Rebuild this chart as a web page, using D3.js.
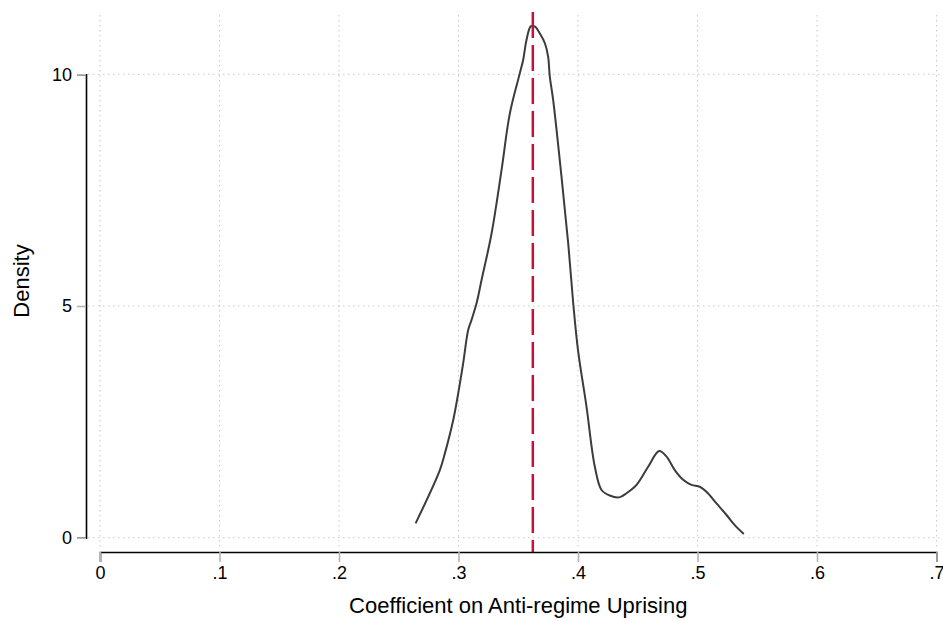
<!DOCTYPE html>
<html>
<head>
<meta charset="utf-8">
<script src="https://cdn.jsdelivr.net/npm/d3@7"></script>
<style>
    body { margin: 0; background: #fff; }
    svg { font-family: "Liberation Sans", Arial, Helvetica, sans-serif; }
</style>
</head>
<body>
<svg id="drawing"></svg>
<script>
// density estimate
const coef_x = [0.2641, 0.2844, 0.2886, 0.2956, 0.2998, 0.3039, 0.3081, 0.3109, 0.3151, 0.3193,
    0.3277, 0.3360, 0.3430, 0.3513, 0.3541, 0.3569, 0.3606, 0.3640, 0.3681, 0.3723, 0.3750,
    0.3764, 0.3792, 0.3862, 0.3918, 0.3960, 0.4000, 0.4071, 0.4141, 0.4197, 0.4266, 0.4344,
    0.4406, 0.4490, 0.4587, 0.4679, 0.4741, 0.4810, 0.4880, 0.4950, 0.5019, 0.5075, 0.5159,
    0.5243, 0.5312, 0.5387];
const density_y = [0.31, 1.46, 1.82, 2.54, 3.12, 3.76, 4.48, 4.70, 5.06, 5.56,
    6.57, 7.93, 9.16, 10.02, 10.31, 10.74, 11.04, 11.03, 10.88, 10.67, 10.38,
    9.95, 9.45, 7.79, 6.35, 5.06, 4.05, 2.83, 1.53, 1.03, 0.91, 0.87,
    0.96, 1.14, 1.53, 1.87, 1.75, 1.46, 1.25, 1.14, 1.10, 0.99, 0.74,
    0.49, 0.27, 0.08];
const point_estimate = 0.3622;

const x_ticks = [0, 0.1, 0.2, 0.3, 0.4, 0.5, 0.6, 0.7];
const x_tick_labels = ['0', '.1', '.2', '.3', '.4', '.5', '.6', '.7'];
const y_ticks = [0, 5, 10];
const y_tick_labels = ['0', '5', '10'];

class DensityPlot {
    constructor (config, data) {
        this.config = {
            parent: config.parent,
            width: config.width || 943,
            height: config.height || 621,
            xlabel: config.xlabel || '',
            ylabel: config.ylabel || ''
        };
        this.data = data;
        this.init();
    }

    init() {
        let self = this;

        self.svg = d3.select(self.config.parent)
            .attr('width', self.config.width)
            .attr('height', self.config.height);

        // x: 0 -> 100px, .7 -> 936px ; y: 0 -> 537.7px, 10 -> 74.3px
        self.xscale = d3.scaleLinear()
            .domain([0, 0.7])
            .range([100, 936.5]);

        self.yscale = d3.scaleLinear()
            .domain([0, 10])
            .range([537.7, 74.3]);

        self.grid = self.svg.append('g');
        self.chart = self.svg.append('g');
        self.axes = self.svg.append('g');
    }

    render() {
        let self = this;
        const grid_style = g => g
            .attr('stroke', '#c8c8c8')
            .attr('stroke-width', 1)
            .attr('stroke-dasharray', '1.5,3.5');

        self.grid.selectAll('line.vgrid')
            .data(x_ticks)
            .enter()
            .append('line')
            .attr('class', 'vgrid')
            .attr('x1', d => self.xscale(d))
            .attr('x2', d => self.xscale(d))
            .attr('y1', 15)
            .attr('y2', 548)
            .call(grid_style);

        self.grid.selectAll('line.hgrid')
            .data(y_ticks)
            .enter()
            .append('line')
            .attr('class', 'hgrid')
            .attr('x1', 88)
            .attr('x2', 943)
            .attr('y1', d => self.yscale(d))
            .attr('y2', d => self.yscale(d))
            .call(grid_style);

        const line = d3.line()
            .x(d => self.xscale(d[0]))
            .y(d => self.yscale(d[1]))
            .curve(d3.curveCatmullRom.alpha(0.5));

        self.chart.append('path')
            .datum(self.data)
            .attr('d', line)
            .attr('fill', 'none')
            .attr('stroke', '#3c3c3c')
            .attr('stroke-width', 2);

        self.chart.append('line')
            .attr('x1', self.xscale(point_estimate))
            .attr('x2', self.xscale(point_estimate))
            .attr('y1', 12)
            .attr('y2', 552)
            .attr('stroke', '#c8103e')
            .attr('stroke-width', 2.5)
            .attr('stroke-dasharray', '26,7');

        // axes
        self.xaxis = d3.axisBottom(self.xscale)
            .tickValues(x_ticks)
            .tickFormat((d, i) => x_tick_labels[i])
            .tickSizeOuter(0)
            .tickSize(10)
            .tickPadding(4);

        self.yaxis = d3.axisLeft(self.yscale)
            .tickValues(y_ticks)
            .tickFormat((d, i) => y_tick_labels[i])
            .tickSizeOuter(0)
            .tickSize(9)
            .tickPadding(5);

        const xg = self.axes.append('g')
            .attr('transform', 'translate(0, 552)')
            .call(self.xaxis);

        const yg = self.axes.append('g')
            .attr('transform', 'translate(86, 0)')
            .call(self.yaxis);

        [xg, yg].forEach(g => {
            g.select('.domain')
                .attr('stroke', '#000')
                .attr('stroke-width', 1.6);
            g.selectAll('.tick line')
                .attr('stroke', '#b4b4b4')
                .attr('stroke-width', 1.6);
            g.selectAll('.tick text')
                .attr('fill', '#000')
                .style('font-size', '18px');
        });

        self.svg.append('text')
            .style('font-size', '22px')
            .attr('x', (self.xscale(0) + self.xscale(0.7)) / 2)
            .attr('y', 613)
            .attr('text-anchor', 'middle')
            .text(self.config.xlabel);

        self.svg.append('text')
            .style('font-size', '22px')
            .attr('transform', 'rotate(-90)')
            .attr('x', -281)
            .attr('y', 29)
            .attr('text-anchor', 'middle')
            .text(self.config.ylabel);
    }
}

const data = coef_x.map((x, i) => [x, density_y[i]]);

const plot = new DensityPlot({
    parent: '#drawing',
    width: 943,
    height: 621,
    xlabel: 'Coefficient on Anti-regime Uprising',
    ylabel: 'Density'
}, data);
plot.render();
</script>
</body>
</html>
